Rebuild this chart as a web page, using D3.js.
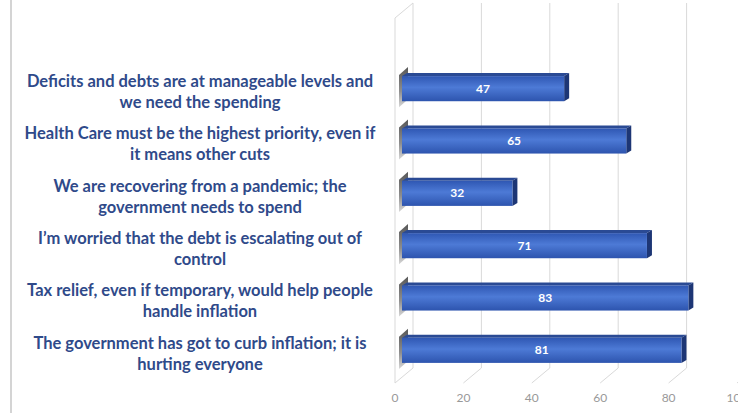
<!DOCTYPE html>
<html>
<head>
<meta charset="utf-8">
<script src="https://cdn.jsdelivr.net/npm/d3@7"></script>
<style>
    body { margin: 0; background: #fff; }
    svg { display: block; }
</style>
</head>
<body>
<div class="chart"></div>
<script>
// Chart data
let categories = [
    ['Deficits and debts are at manageable levels and', 'we need the spending'],
    ['Health Care must be the highest priority, even if', 'it means other cuts'],
    ['We are recovering from a pandemic; the', 'government needs to spend'],
    ['I\u2019m worried that the debt is escalating out of', 'control'],
    ['Tax relief, even if temporary, would help people', 'handle inflation'],
    ['The government has got to curb inflation; it is', 'hurting everyone']
];
let values = [47, 65, 32, 71, 83, 81];
let ticks = [0, 20, 40, 60, 80, 100];

let w = 738, h = 413,
    depthX = 18, depthY = 15,     // wall depth for the 3D look
    barDX = 5, barDY = 3,         // bar depth
    floorY = 368;

let chart = d3.select('.chart')
    .append('svg')
    .attr('width', w)
    .attr('height', h);

// Scales: front (labels) and back wall (gridlines)
let xFront = d3.scaleLinear().domain([0, 100]).range([395, 737]),
    xBack = (v) => xFront(v) + depthX,
    xBar = d3.scaleLinear().domain([0, 100]).range([402, 747]),
    y = d3.scaleBand()
        .domain(d3.range(values.length))
        .range([62.5, 376.5])
        .paddingInner(0.52)
        .paddingOuter(0.26);

// Gradients
let defs = chart.append('defs');
let grad = defs.append('linearGradient')
    .attr('id', 'barFront')
    .attr('x1', 0).attr('y1', 0).attr('x2', 0).attr('y2', 1);
grad.append('stop').attr('offset', '0%').attr('stop-color', '#2f57b3');
grad.append('stop').attr('offset', '45%').attr('stop-color', '#4d7ad6');
grad.append('stop').attr('offset', '100%').attr('stop-color', '#2d54ae');

let shade = defs.append('linearGradient')
    .attr('id', 'barShadow')
    .attr('x1', 0).attr('y1', 0).attr('x2', 0).attr('y2', 1);
shade.append('stop').attr('offset', '0%').attr('stop-color', '#3a3a3a');
shade.append('stop').attr('offset', '60%').attr('stop-color', '#7a7a7a');
shade.append('stop').attr('offset', '100%').attr('stop-color', '#d0d0d0');

// Outer frame line on the left
chart.append('line')
    .attr('x1', 11).attr('x2', 11)
    .attr('y1', 0).attr('y2', h)
    .attr('stroke', '#d4d4d4')
    .attr('stroke-width', 2);

// Back wall gridlines and floor lines
let grid = chart.append('g').attr('class', 'grid');
grid.selectAll('line.back')
    .data(ticks)
    .enter().append('line')
    .attr('class', 'back')
    .attr('x1', (d) => xBack(d)).attr('x2', (d) => xBack(d))
    .attr('y1', 3).attr('y2', floorY)
    .attr('stroke', '#d9d9d9');
grid.selectAll('line.floor')
    .data(ticks)
    .enter().append('line')
    .attr('class', 'floor')
    .attr('x1', (d) => xBack(d)).attr('x2', (d) => xFront(d))
    .attr('y1', floorY).attr('y2', floorY + depthY)
    .attr('stroke', '#d9d9d9');

// Left side wall edge
grid.append('line')
    .attr('x1', xFront(0)).attr('x2', xFront(0))
    .attr('y1', 3 + depthY).attr('y2', floorY + depthY)
    .attr('stroke', '#d9d9d9');
grid.append('line')
    .attr('x1', xFront(0)).attr('x2', xBack(0))
    .attr('y1', 3 + depthY).attr('y2', 3)
    .attr('stroke', '#d9d9d9');

// Tick labels (the last one runs off the edge, as in the original)
chart.append('g')
    .selectAll('text')
    .data(ticks)
    .enter().append('text')
    .attr('x', (d) => xFront(d))
    .attr('y', 402)
    .attr('text-anchor', 'middle')
    .attr('font-family', 'Lato, sans-serif')
    .attr('font-size', 12)
    .attr('fill', '#999')
    .text((d) => d);

// Bars
let bars = chart.append('g')
    .selectAll('g')
    .data(values)
    .enter().append('g');

bars.append('polygon')
    .attr('points', (d, i) => {
        let x0 = xBar(0), yt = y(i), bh = y.bandwidth();
        return [[x0 - 3, yt + bh + 6], [x0 - 3, yt - 1], [x0 + 6, yt - 9], [x0 + 6, yt + bh - 2]].join(' ');
    })
    .attr('fill', 'url(#barShadow)')
    .attr('opacity', 0.85);

bars.append('polygon')
    .attr('points', (d, i) => {
        let x0 = xBar(0), x1 = xBar(d), yt = y(i);
        return [[x0, yt], [x0 + barDX, yt - barDY], [x1 + barDX, yt - barDY], [x1, yt]].join(' ');
    })
    .attr('fill', '#2a4a94');

bars.append('polygon')
    .attr('points', (d, i) => {
        let x1 = xBar(d), yt = y(i), bh = y.bandwidth();
        return [[x1, yt], [x1 + barDX, yt - barDY], [x1 + barDX, yt + bh - barDY], [x1, yt + bh]].join(' ');
    })
    .attr('fill', '#1d3675');

bars.append('rect')
    .attr('x', xBar(0))
    .attr('y', (d, i) => y(i))
    .attr('width', (d) => xBar(d) - xBar(0))
    .attr('height', y.bandwidth())
    .attr('fill', 'url(#barFront)');

bars.append('text')
    .attr('x', (d) => (xBar(0) + xBar(d)) / 2)
    .attr('y', (d, i) => y(i) + y.bandwidth() / 2 + 1)
    .attr('text-anchor', 'middle')
    .attr('dominant-baseline', 'middle')
    .attr('font-family', 'Lato, sans-serif')
    .attr('font-weight', 700)
    .attr('font-size', 12)
    .attr('fill', '#fff')
    .text((d) => d);

// Category labels, two lines each
let labels = chart.append('g')
    .selectAll('text')
    .data(categories)
    .enter().append('text')
    .attr('text-anchor', 'middle')
    .attr('font-family', 'Lato, sans-serif')
    .attr('font-weight', 700)
    .attr('font-size', 16.5)
    .attr('fill', '#2f4a8a');

labels.each(function (d, i) {
    let c = y(i) + y.bandwidth() / 2;
    d.forEach((line, j) => {
        d3.select(this).append('tspan')
            .attr('x', 200)
            .attr('y', c - 6 + j * 21)
            .attr('dominant-baseline', 'middle')
            .text(line);
    });
});
</script>
</body>
</html>
